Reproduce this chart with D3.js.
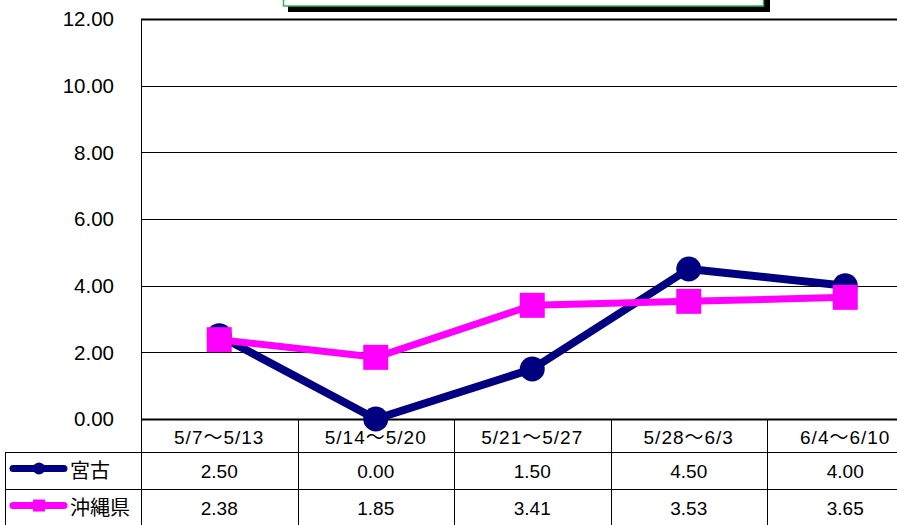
<!DOCTYPE html>
<html>
<head>
<meta charset="utf-8">
<script src="https://cdn.jsdelivr.net/npm/d3@7"></script>
<style>
  body { margin: 0; background: #fff; }
  svg { display: block; }
  text { font-family: "Liberation Sans", "Noto Sans CJK JP", sans-serif; font-weight: 400; fill: #000; }
</style>
</head>
<body>
<div id="chart"></div>
<script>
// data
const categories = ['5/7～5/13', '5/14～5/20', '5/21～5/27', '5/28～6/3', '6/4～6/10'];
const miyako = [2.50, 0.00, 1.50, 4.50, 4.00];
const okinawa = [2.38, 1.85, 3.41, 3.53, 3.65];
const seriesNames = ['宮古', '沖縄県'];
const yTicks = [0, 2, 4, 6, 8, 10, 12];

const W = 897, H = 525;
const plot = { left: 141, top: 19, bottom: 419, colW: 156.5 };
const rowY = [419, 452, 489, 526];

const svg = d3.select('#chart').append('svg')
  .attr('width', W)
  .attr('height', H);

const x = d3.scaleBand()
  .domain(categories)
  .range([plot.left, plot.left + plot.colW * categories.length]);

const y = d3.scaleLinear()
  .domain([0, 12])
  .range([plot.bottom, plot.top]);

// title box, cut off at the top
svg.append('rect')
  .attr('x', 288).attr('y', -20)
  .attr('width', 482).attr('height', 32)
  .attr('fill', '#000');
svg.append('rect')
  .attr('x', 283.5).attr('y', -20)
  .attr('width', 480).attr('height', 26)
  .attr('fill', '#fff')
  .attr('stroke', '#2db85a')
  .attr('stroke-width', 1.5);

// gridlines
svg.append('g').selectAll('line')
  .data(yTicks)
  .enter().append('line')
    .attr('x1', plot.left)
    .attr('x2', W)
    .attr('y1', d => Math.round(y(d)) + 0.5)
    .attr('y2', d => Math.round(y(d)) + 0.5)
    .attr('stroke', '#000')
    .attr('stroke-width', d => (d === 0 || d === 12) ? 2 : 1);

// left axis line
svg.append('line')
  .attr('x1', plot.left + 0.5).attr('x2', plot.left + 0.5)
  .attr('y1', plot.top).attr('y2', H)
  .attr('stroke', '#000');

// y labels
svg.append('g').selectAll('text')
  .data(yTicks)
  .enter().append('text')
    .attr('x', 114)
    .attr('y', d => y(d))
    .attr('dy', '0.35em')
    .attr('text-anchor', 'end')
    .style('font-size', '20.5px')
    .text(d => d.toFixed(2));

// table grid
const table = svg.append('g');
table.selectAll('line.col')
  .data(categories.slice(1))
  .enter().append('line')
    .attr('class', 'col')
    .attr('x1', d => Math.round(x(d)) + 0.5)
    .attr('x2', d => Math.round(x(d)) + 0.5)
    .attr('y1', rowY[0]).attr('y2', H)
    .attr('stroke', '#000');
table.selectAll('line.row')
  .data([rowY[1], rowY[2]])
  .enter().append('line')
    .attr('class', 'row')
    .attr('x1', 5).attr('x2', W)
    .attr('y1', d => d + 0.5).attr('y2', d => d + 0.5)
    .attr('stroke', '#000');
table.append('line')
  .attr('x1', 5.5).attr('x2', 5.5)
  .attr('y1', rowY[1]).attr('y2', H)
  .attr('stroke', '#000');

// category header
table.selectAll('text.cat')
  .data(categories)
  .enter().append('text')
    .attr('class', 'cat')
    .attr('x', d => x(d) + x.bandwidth() / 2)
    .attr('y', (rowY[0] + rowY[1]) / 2 + 2)
    .attr('dy', '0.35em')
    .attr('text-anchor', 'middle')
    .style('font-size', '19px')
    .style('letter-spacing', '1px')
    .text(d => d);

const series = [
  { name: seriesNames[0], values: miyako, color: '#000080', marker: 'circle', width: 8 },
  { name: seriesNames[1], values: okinawa, color: '#ff00ff', marker: 'square', width: 7 }
];

series.forEach((s, si) => {
  const cy = (rowY[si + 1] + rowY[si + 2]) / 2;
  // values
  table.selectAll('text.v' + si)
    .data(s.values)
    .enter().append('text')
      .attr('x', (d, i) => x(categories[i]) + x.bandwidth() / 2)
      .attr('y', cy + 1)
      .attr('dy', '0.35em')
      .attr('text-anchor', 'middle')
      .style('font-size', '19px')
      .text(d => d.toFixed(2));
  // legend key
  table.append('line')
    .attr('x1', 13).attr('x2', 64)
    .attr('y1', cy - 2).attr('y2', cy - 2)
    .attr('stroke', s.color)
    .attr('stroke-width', 7)
    .attr('stroke-linecap', 'round');
  if (s.marker === 'circle') {
    table.append('circle')
      .attr('cx', 39).attr('cy', cy - 2).attr('r', 6)
      .attr('fill', s.color);
  } else {
    table.append('rect')
      .attr('x', 33).attr('y', cy - 8)
      .attr('width', 12).attr('height', 12)
      .attr('fill', s.color);
  }
  table.append('text')
    .attr('x', 70)
    .attr('y', cy)
    .attr('dy', '0.35em')
    .style('font-family', '"Noto Sans CJK JP", sans-serif')
    .style('font-size', '20px')
    .text(s.name);
});

// lines and markers
const line = d3.line()
  .x((d, i) => x(categories[i]) + x.bandwidth() / 2)
  .y(d => y(d));

series.forEach(s => {
  const g = svg.append('g');
  g.append('path')
    .datum(s.values)
    .attr('d', line)
    .attr('fill', 'none')
    .attr('stroke', s.color)
    .attr('stroke-width', s.width)
    .attr('stroke-linejoin', 'round');
  if (s.marker === 'circle') {
    g.selectAll('circle')
      .data(s.values)
      .enter().append('circle')
        .attr('cx', (d, i) => x(categories[i]) + x.bandwidth() / 2)
        .attr('cy', d => y(d))
        .attr('r', 12.5)
        .attr('fill', s.color);
  } else {
    g.selectAll('rect')
      .data(s.values)
      .enter().append('rect')
        .attr('x', (d, i) => x(categories[i]) + x.bandwidth() / 2 - 12.5)
        .attr('y', d => y(d) - 12.5)
        .attr('width', 25)
        .attr('height', 25)
        .attr('fill', s.color);
  }
});
</script>
</body>
</html>
